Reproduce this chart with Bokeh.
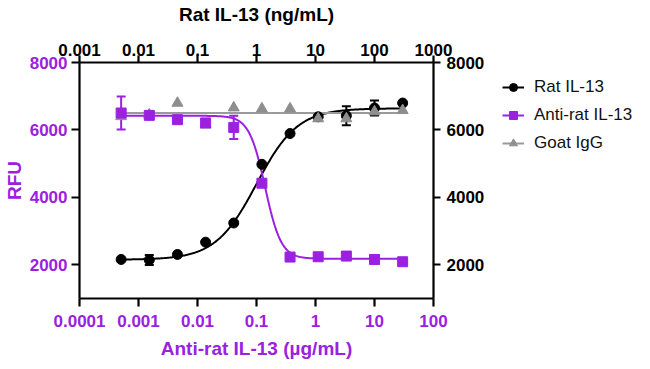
import numpy as np
from bokeh.plotting import figure
from bokeh.layouts import row
from bokeh.models import (Range1d, LogAxis, LinearAxis, LogScale, FixedTicker,
                          CustomJSTickFormatter, ColumnDataSource, Whisker, TeeHead,
                          Legend, LegendItem)
from bokeh.embed import file_html
from bokeh.resources import INLINE

# ---------------- data ----------------
rat_il13_ng = [0.00508, 0.01524, 0.04572, 0.1372, 0.4115, 1.235, 3.704, 11.11, 33.33, 100, 300]
rat_il13_rfu = [2158, 2141, 2306, 2671, 3240, 4979, 5893, 6390, 6420, 6650, 6797]
rat_il13_err = [0, 150, 0, 0, 0, 0, 0, 90, 280, 220, 0]

anti_ug = [0.000508, 0.001524, 0.004572, 0.01372, 0.04115, 0.1235, 0.3704, 1.111, 3.333, 10, 30]
anti_rfu = [6502, 6432, 6305, 6208, 6075, 4419, 2229, 2238, 2258, 2158, 2090]
anti_err = [486, 0, 0, 0, 345, 0, 0, 0, 0, 0, 0]

goat_ug = [0.000508, 0.001524, 0.004572, 0.01372, 0.04115, 0.1235, 0.3704, 1.111, 3.333, 10, 30]
goat_rfu = [6400, 6450, 6797, 6150, 6659, 6629, 6629, 6335, 6335, 6541, 6580]

# 4-parameter logistic fit parameters
rat_fit = dict(bottom=2150, top=6640, ec50=1.0, hill=1.25)
anti_fit = dict(bottom=2180, top=6420, ec50=0.14, hill=3.2)

series_names = ["Rat IL-13", "Anti-rat IL-13", "Goat IgG"]
bottom_ticks = [0.0001, 0.001, 0.01, 0.1, 1, 10, 100]
top_ticks = [0.001, 0.01, 0.1, 1, 10, 100, 1000]
y_ticks = [2000, 4000, 6000, 8000]

PURPLE = "#9B20E0"
BLACK = "#000000"
GRAY = "#8E8E8E"
GRAY_LINE = "#9A9A9A"
FONT = "Liberation Sans"


def logistic(x, f, rising=True):
    x = np.asarray(x, dtype=float)
    r = (f["ec50"] / x) ** f["hill"] if rising else (x / f["ec50"]) ** f["hill"]
    return f["bottom"] + (f["top"] - f["bottom"]) / (1.0 + r)


p = figure(frame_width=354, frame_height=236, x_axis_type="log",
           x_range=Range1d(1e-4, 100), y_range=Range1d(1000, 8000),
           output_backend="svg", toolbar_location=None,
           min_border_left=75, min_border_right=0, min_border_top=0, min_border_bottom=0)
p.extra_x_ranges = {"top": Range1d(1e-3, 1000)}
p.extra_x_scales = {"top": LogScale()}
p.outline_line_color = None
p.xgrid.visible = False
p.ygrid.visible = False
p.background_fill_color = "white"
p.border_fill_color = "white"

fmt = CustomJSTickFormatter(code="return tick.toString()")

xb = p.xaxis[0]
xb.ticker = FixedTicker(ticks=bottom_ticks)
xb.formatter = fmt
xb.axis_label = "Anti-rat IL-13 (\u00b5g/mL)"

xt = LogAxis(x_range_name="top", ticker=FixedTicker(ticks=top_ticks), formatter=fmt,
             axis_label="Rat IL-13 (ng/mL)")
p.add_layout(xt, "above")

yl = p.yaxis[0]
yl.ticker = FixedTicker(ticks=y_ticks)
yl.axis_label = "RFU"

yr = LinearAxis(ticker=FixedTicker(ticks=y_ticks))
p.add_layout(yr, "right")

for ax, col in ((xb, PURPLE), (xt, BLACK), (yl, PURPLE), (yr, BLACK)):
    ax.axis_line_width = 2.2
    ax.axis_line_color = BLACK
    ax.major_tick_line_width = 2.2
    ax.major_tick_line_color = BLACK
    ax.major_tick_out = 8
    ax.major_tick_in = 0
    ax.minor_tick_line_color = None
    ax.major_label_text_font = FONT
    ax.major_label_text_font_style = "bold"
    ax.major_label_text_font_size = "17px"
    ax.major_label_text_color = col
    ax.axis_label_text_font = FONT
    ax.axis_label_text_font_style = "bold"
    ax.axis_label_text_font_size = "19px"
    ax.axis_label_text_color = col

xb.major_label_standoff = 8
xb.axis_label_standoff = 8
xt.major_tick_out = 7
xt.major_label_standoff = 0
xt.axis_label_standoff = 16
yl.major_label_standoff = 4
yl.axis_label_standoff = 2
yr.major_tick_out = 7
yr.major_label_standoff = 6

# ---------------- fits ----------------
xr = np.logspace(np.log10(rat_il13_ng[0]), np.log10(rat_il13_ng[-1]), 300)
p.line(xr, logistic(xr, rat_fit, True), x_range_name="top", line_color=BLACK, line_width=2)
xa = np.logspace(np.log10(anti_ug[0]), np.log10(anti_ug[-1]), 300)
p.line(xa, logistic(xa, anti_fit, False), line_color=PURPLE, line_width=2)
goat_mean = float(np.mean(goat_rfu))
p.line([goat_ug[0], goat_ug[-1]], [goat_mean, goat_mean], line_color=GRAY_LINE, line_width=2)

# ---------------- error bars & markers ----------------
def err_source(xs, ys, es):
    xx, lo, hi = [], [], []
    for x, y, e in zip(xs, ys, es):
        if e > 0:
            xx.append(x); lo.append(y - e); hi.append(y + e)
    return ColumnDataSource(dict(x=xx, lower=lo, upper=hi))

p.add_layout(Whisker(source=err_source(rat_il13_ng, rat_il13_rfu, rat_il13_err),
                     base="x", lower="lower", upper="upper", dimension="height",
                     x_range_name="top", line_color=BLACK, line_width=2,
                     upper_head=TeeHead(size=9, line_color=BLACK, line_width=2),
                     lower_head=TeeHead(size=9, line_color=BLACK, line_width=2)))
p.scatter(rat_il13_ng, rat_il13_rfu, x_range_name="top", marker="circle",
          size=10, fill_color=BLACK, line_color=BLACK)
p.scatter(goat_ug, goat_rfu, marker="triangle", size=11, fill_color=GRAY, line_color=GRAY)
p.add_layout(Whisker(source=err_source(anti_ug, anti_rfu, anti_err),
                     base="x", lower="lower", upper="upper", dimension="height",
                     line_color=PURPLE, line_width=2,
                     upper_head=TeeHead(size=9, line_color=PURPLE, line_width=2),
                     lower_head=TeeHead(size=9, line_color=PURPLE, line_width=2)))
p.scatter(anti_ug, anti_rfu, marker="square", size=10, fill_color=PURPLE, line_color=PURPLE)

# ---------------- legend (separate panel to the right) ----------------
leg = figure(width=148, height=340, output_backend="svg", toolbar_location=None,
             min_border_left=0, min_border_right=0, min_border_top=25, min_border_bottom=0,
             x_range=Range1d(0, 1), y_range=Range1d(0, 1))
leg.axis.visible = False
leg.grid.visible = False
leg.outline_line_color = None
leg.background_fill_color = "white"
leg.border_fill_color = "white"

items = []
for name, col, lc, mk in zip(series_names, [BLACK, PURPLE, GRAY], [BLACK, PURPLE, GRAY_LINE],
                             ["circle", "square", "triangle"]):
    # proxy renderers: one point outside the (invisible) range, only for the legend glyphs
    ln = leg.line(x=[-5, -4], y=[-5, -5], line_color=lc, line_width=2)
    sc = leg.scatter(x=[-5], y=[-5], marker=mk, size=9 if mk != "triangle" else 10,
                     fill_color=col, line_color=col)
    items.append(LegendItem(label=name, renderers=[ln, sc]))

legend = Legend(items=items, location="top_left")
legend.border_line_color = None
legend.background_fill_alpha = 0
legend.padding = 0
legend.margin = 15
legend.spacing = 8
legend.glyph_width = 22
legend.glyph_height = 20
legend.label_height = 20
legend.label_standoff = 10
legend.label_text_font = FONT
legend.label_text_font_size = "17px"
legend.label_text_color = "#111111"
leg.add_layout(legend, "center")

layout = row(p, leg)
open("out.html", "w").write(file_html(layout, INLINE))
